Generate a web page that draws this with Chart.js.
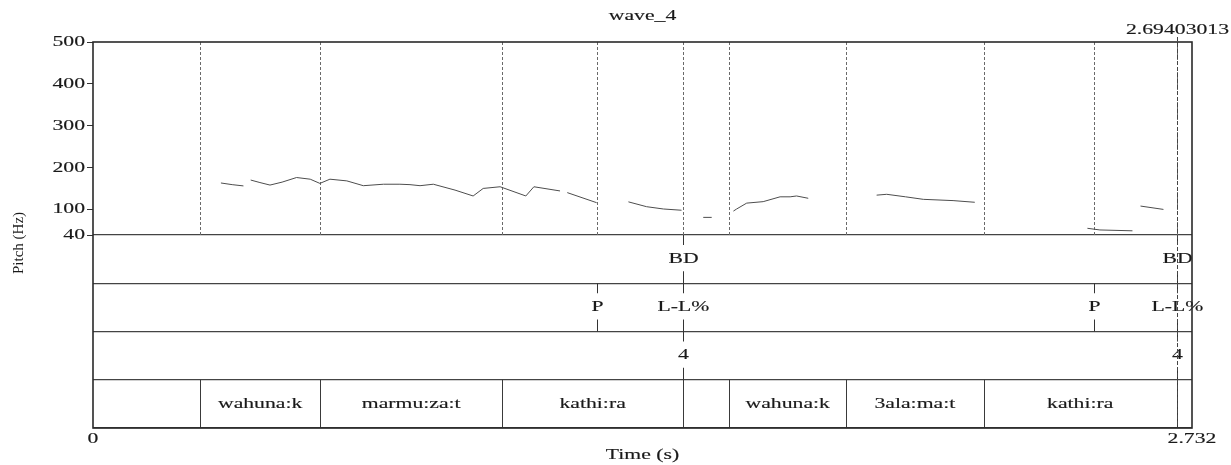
<!DOCTYPE html>
<html>
<head>
<meta charset="utf-8">
<title>wave_4</title>
<style>
  html, body { margin: 0; padding: 0; background: #fff; }
  #c { display: block; }
</style>
<script src="https://cdn.jsdelivr.net/npm/chart.js@4/dist/chart.umd.min.js"></script>
</head>
<body>
<canvas id="c" width="1231" height="465"></canvas>
<script>
// ---- data ----
const TITLE = 'wave_4';
const X_AXIS_TITLE = 'Time (s)';
const Y_AXIS_TITLE = 'Pitch (Hz)';
const timeRange = [0, 2.732];
const pitchRange = [40, 500];
const pitchTicks = [40, 100, 200, 300, 400, 500];
const cursorTime = 2.69403013;

// pitch track (null = unvoiced gap)
const pitchTime = [
  0.318, 0.346, 0.374, null,
  0.392, 0.415, 0.440, 0.470, 0.506, 0.540, 0.564, 0.589, 0.631, 0.672, 0.722, 0.763, 0.788, 0.813, 0.846, 0.900, 0.945, 0.970, 1.012, 1.076, 1.096, 1.161, null,
  1.179, 1.252, null,
  1.331, 1.376, 1.418, 1.463, null,
  1.517, 1.538, null,
  1.592, 1.600, 1.625, 1.666, 1.708, 1.733, 1.749, 1.778, null,
  1.948, 1.973, 2.020, 2.064, 2.138, 2.192, null,
  2.472, 2.503, 2.584, null,
  2.604, 2.661
];
const pitchHz = [
  164, 160, 157, null,
  171, 165, 159, 166, 177, 173, 163, 173, 169, 157.5, 161, 161, 160, 157.5, 161, 147, 133, 151, 155, 133, 155, 145, null,
  141, 117, null,
  119, 107.5, 102, 99, null,
  82, 82, null,
  97, 102, 116, 119.5, 131, 131, 133, 127.5, null,
  135, 137, 131, 125, 122, 118, null,
  56, 52, 50, null,
  109, 101
];

// tier 1: break/boundary points
const bdTimes = [1.467, 2.694];
const bdLabels = ['BD', 'BD'];
// tier 2: tones
const toneTimes = [1.252, 1.467, 2.489, 2.694];
const toneLabels = ['P', 'L-L%', 'P', 'L-L%'];
// tier 3: break indices
const breakTimes = [1.467, 2.694];
const breakLabels = ['4', '4'];
// tier 4: words (interval tier)
const wordBounds = [0, 0.266, 0.565, 1.017, 1.467, 1.582, 1.872, 2.214, 2.694, 2.732];
const words = ['', 'wahuna:k', 'marmu:za:t', 'kathi:ra', '', 'wahuna:k', '3ala:ma:t', 'kathi:ra', ''];

// ---- drawing helpers ----
const INK = '#1a1a1a';
const SERIF = '"Liberation Serif", "DejaVu Serif", serif';
const STRETCH = 1.55;
const FONT_PX = 14;

function wideText(ctx, str, x, y, align, baseline) {
  ctx.save();
  ctx.font = FONT_PX + 'px ' + SERIF;
  ctx.fillStyle = INK;
  ctx.strokeStyle = INK;
  ctx.lineWidth = 0.15;
  ctx.textAlign = align || 'center';
  ctx.textBaseline = baseline || 'middle';
  ctx.translate(x, y);
  ctx.scale(STRETCH, 1);
  ctx.fillText(str, 0, 0);
  ctx.strokeText(str, 0, 0);
  ctx.restore();
}

function vLine(ctx, px, y0, y1) {
  ctx.beginPath();
  ctx.moveTo(px, y0);
  ctx.lineTo(px, y1);
  ctx.stroke();
}

const snap = v => Math.round(v) + 0.5;

const tierPlugin = {
  id: 'tiers',
  beforeDatasetsDraw(chart) {
    const { ctx, scales: { x, y } } = chart;
    // dotted guides across the pitch panel at every tier mark
    const guides = [...new Set([...wordBounds.slice(1, -1), ...toneTimes, ...bdTimes])];
    ctx.save();
    ctx.strokeStyle = '#6a6a6a';
    ctx.lineWidth = 1;
    ctx.setLineDash([3, 2]);
    guides.forEach(t => vLine(ctx, snap(x.getPixelForValue(t)), y.top, y.bottom));
    ctx.restore();
  },
  afterDraw(chart) {
    const { ctx, chartArea: a, scales: { x, y, tier } } = chart;
    const rowTop = i => tier.getPixelForValue(i);
    const rowBot = i => tier.getPixelForValue(i + 1);

    // point tiers: short ticks at the row edges, label centred
    const pointTiers = [[bdTimes, bdLabels], [toneTimes, toneLabels], [breakTimes, breakLabels]];
    ctx.save();
    ctx.strokeStyle = '#333';
    ctx.lineWidth = 1;
    pointTiers.forEach(([times, labels], row) => {
      const t0 = rowTop(row), t1 = rowBot(row);
      times.forEach((t, k) => {
        const px = snap(x.getPixelForValue(t));
        vLine(ctx, px, t0, t0 + 10);
        vLine(ctx, px, t1 - 12, t1);
        wideText(ctx, labels[k], px, (t0 + t1) / 2);
      });
    });

    // word tier: boundaries and centred labels
    const w0 = rowTop(3), w1 = rowBot(3);
    ctx.strokeStyle = '#3a3a3a';
    wordBounds.slice(1, -1).forEach(t => vLine(ctx, snap(x.getPixelForValue(t)), w0, w1));
    words.forEach((w, i) => {
      if (!w) return;
      const cx = (x.getPixelForValue(wordBounds[i]) + x.getPixelForValue(wordBounds[i + 1])) / 2;
      wideText(ctx, w, cx, (w0 + w1) / 2);
    });

    // cursor
    const cx = snap(x.getPixelForValue(cursorTime));
    ctx.strokeStyle = '#444';
    ctx.lineWidth = 1;
    ctx.setLineDash([4, 2]);
    vLine(ctx, cx, a.top - 5, a.bottom);
    ctx.setLineDash([]);
    wideText(ctx, String(cursorTime), cx, a.top - 8, 'center', 'alphabetic');

    // frame
    ctx.strokeStyle = '#2a2a2a';
    ctx.lineWidth = 1.6;
    ctx.strokeRect(a.left, a.top, a.right - a.left, a.bottom - a.top);

    // pitch tick labels
    pitchTicks.forEach(v => wideText(ctx, String(v), a.left - 8, y.getPixelForValue(v), 'right'));

    // time range labels
    wideText(ctx, String(timeRange[0]), x.getPixelForValue(timeRange[0]), a.bottom + 11);
    wideText(ctx, String(timeRange[1]), x.getPixelForValue(timeRange[1]), a.bottom + 11);

    // titles
    const mid = (a.left + a.right) / 2;
    wideText(ctx, X_AXIS_TITLE, mid, a.bottom + 27);
    wideText(ctx, TITLE, mid, 16);

    ctx.font = '15px ' + SERIF;
    ctx.fillStyle = INK;
    ctx.textAlign = 'center';
    ctx.textBaseline = 'middle';
    ctx.translate(19, 243);
    ctx.rotate(-Math.PI / 2);
    ctx.fillText(Y_AXIS_TITLE, 0, 0);
    ctx.restore();
  }
};

new Chart(document.getElementById('c'), {
  type: 'line',
  data: {
    datasets: [{
      data: pitchTime.map((t, i) => ({ x: t, y: pitchHz[i] })),
      yAxisID: 'y',
      borderColor: '#4d4d4d',
      borderWidth: 1,
      pointRadius: 0,
      tension: 0,
      spanGaps: false
    }]
  },
  options: {
    responsive: false,
    animation: false,
    events: [],
    layout: { padding: { left: 87, right: 39, top: 42, bottom: 37 } },
    plugins: { legend: { display: false }, tooltip: { enabled: false }, title: { display: false } },
    scales: {
      x: {
        type: 'linear', min: timeRange[0], max: timeRange[1],
        ticks: { display: false }, grid: { display: false }, border: { display: false },
        afterFit(s) { s.height = 0; }
      },
      // annotation tiers sit below the pitch panel
      tier: {
        type: 'linear', position: 'left', stack: 'panel', stackWeight: 1,
        min: 0, max: 4, reverse: true,
        afterBuildTicks(s) { s.ticks = [0, 1, 2, 3, 4].map(v => ({ value: v })); },
        ticks: { display: false },
        grid: { drawOnChartArea: true, drawTicks: false, color: '#444', lineWidth: 1.3 },
        border: { display: false },
        afterFit(s) { s.width = 6; }
      },
      y: {
        type: 'linear', position: 'left', stack: 'panel', stackWeight: 1,
        min: pitchRange[0], max: pitchRange[1],
        afterBuildTicks(s) { s.ticks = pitchTicks.map(v => ({ value: v })); },
        ticks: { display: false },
        grid: { drawOnChartArea: false, drawTicks: true, tickLength: 6, color: '#333', lineWidth: 1 },
        border: { display: false },
        afterFit(s) { s.width = 6; }
      }
    }
  },
  plugins: [tierPlugin]
});
</script>
</body>
</html>
